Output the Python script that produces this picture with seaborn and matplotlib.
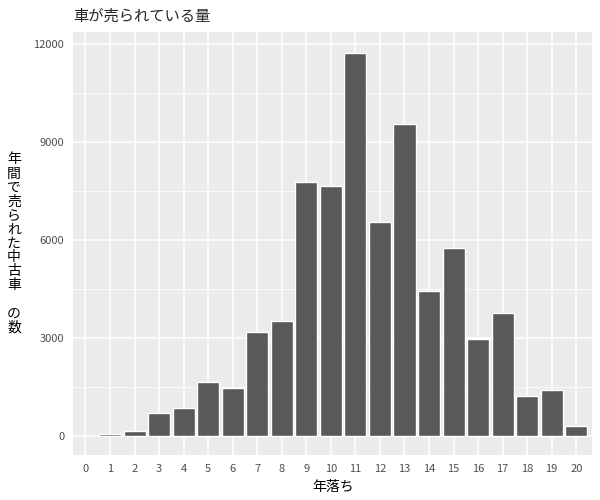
import matplotlib
matplotlib.use('Agg')
import matplotlib.pyplot as plt
import seaborn as sns
import pandas as pd

# data
years = list(range(1, 21))
counts = [60, 150, 700, 860, 1650, 1470, 3180, 3520, 7780, 7650,
          11720, 6550, 9550, 4440, 5750, 2970, 3770, 1220, 1410, 310]
df = pd.DataFrame({'year': years, 'count': counts})

sns.set_style('darkgrid', {'axes.facecolor': '#EBEBEB', 'grid.color': 'white'})
plt.rcParams['font.family'] = ['Noto Sans CJK JP', 'DejaVu Sans']

fig = plt.figure(figsize=(6, 5), dpi=100)
ax = fig.add_axes([0.122, 0.09, 0.865, 0.846])
ax.bar(df['year'], df['count'], width=0.9, color='#595959', zorder=3)

ax.set_xlim(-0.5, 20.65)
ax.set_ylim(-580, 12370)
ax.set_xticks(range(0, 21))
ax.set_yticks([0, 3000, 6000, 9000, 12000])
ax.set_yticks([1500, 4500, 7500, 10500], minor=True)
ax.grid(True, which='major', color='white', linewidth=1.1, zorder=0)
ax.grid(True, which='minor', axis='y', color='white', linewidth=0.5, zorder=0)
ax.tick_params(axis='both', which='major', labelsize=8, colors='#4D4D4D', length=3, width=0.8)
ax.tick_params(axis='both', which='minor', length=0)
for s in ax.spines.values():
    s.set_visible(False)

ax.set_xlabel('年落ち', fontsize=10, color='black')
ax.set_ylabel('\n'.join('年間で売られた中古車 の数'), rotation=0, fontsize=10,
              color='black', labelpad=14, va='center', linespacing=1.0)
ax.set_title('車が売られている量', loc='left', fontsize=11, pad=8)

fig.savefig('out.png')
